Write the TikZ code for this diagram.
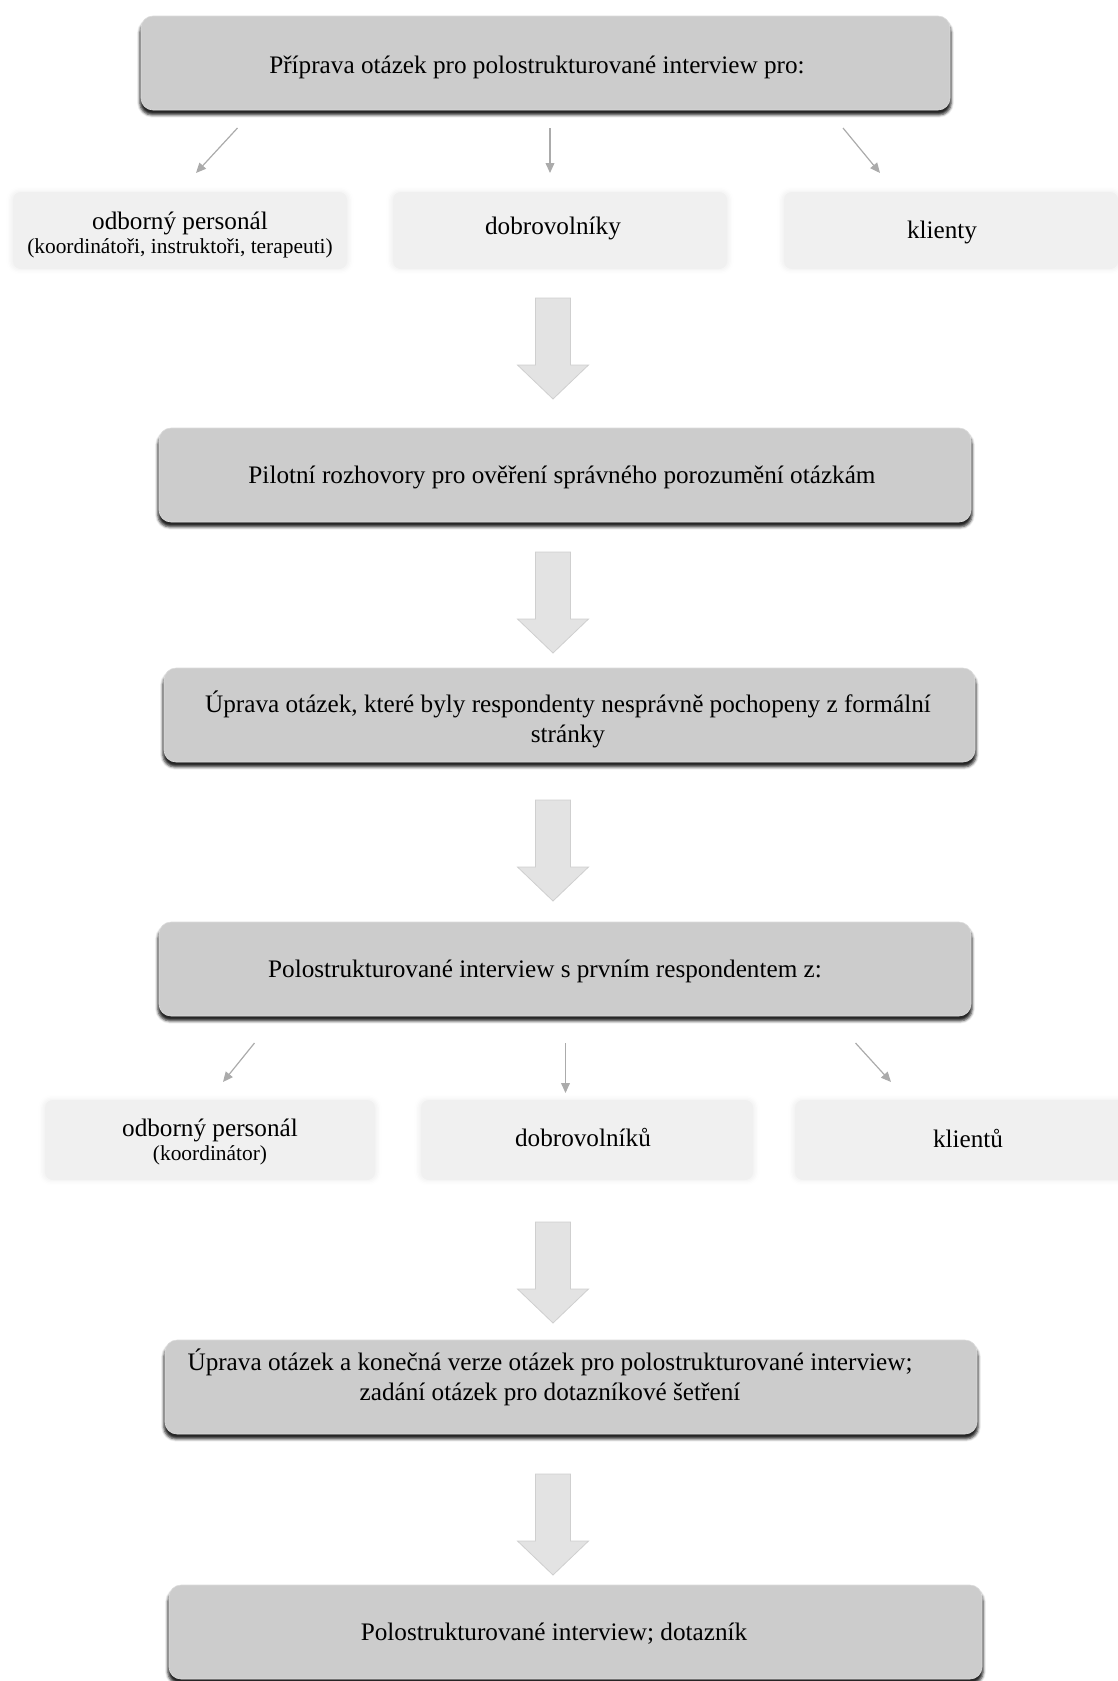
\documentclass[tikz,border=0pt]{standalone}
\usepackage{fontspec}
\setmainfont{Liberation Serif}
\usetikzlibrary{arrows.meta,shadows.blur}

% size of the parenthesised detail lines
\newcommand\detailsize{\fontsize{10.7pt}{13pt}\selectfont}

\tikzset{
  graybox/.style={rounded corners=6pt, fill=black!20, draw=black!14, line width=0.3pt,
    minimum height=47pt, inner sep=0pt,
    blur shadow={shadow xshift=0pt, shadow yshift=-2.4pt, shadow blur radius=1.3pt,
                 shadow opacity=85, shadow scale=1.003}},
  lightbox/.style={rounded corners=4pt, fill=black!6, inner sep=0pt,
    blur shadow={shadow xshift=0pt, shadow yshift=0pt, shadow blur radius=2.5pt,
                 shadow opacity=7, shadow scale=1.01}},
  steptext/.style={font=\fontsize{12.6pt}{15pt}\selectfont, align=center, inner sep=0pt},
  grouptext/.style={font=\fontsize{12.6pt}{13pt}\selectfont, align=center, inner sep=0pt},
  thinarrow/.style={draw=black!33, line width=0.6pt, -{Triangle[length=5pt,width=4.4pt]}},
  pics/bigdown/.style={code={
    \filldraw[fill=black!11, draw=black!19, line width=0.4pt]
      (-17.5,0) -- (17.5,0) -- (17.5,67) -- (35.5,67) -- (0,101)
      -- (-35.5,67) -- (-17.5,67) -- cycle;}}
}

\begin{document}
\begin{tikzpicture}[x=0.5pt,y=-0.5pt]
\useasboundingbox (0,0) rectangle (1118,1681);

% main steps
\node[graybox, minimum width=404.5pt] (b1) at (545.5,63) {};
\node[steptext] (t1) at (537,67) {Příprava otázek pro polostrukturované interview pro:};

\node[graybox, minimum width=406pt] (b2) at (565,475) {};
\node[steptext] (t2) at (562,477) {Pilotní rozhovory pro ověření správného porozumění otázkám};

\node[graybox, minimum width=405.5pt] (b3) at (569.5,715) {};
\node[steptext] (t3) at (568,719) {Úprava otázek, které byly respondenty nesprávně pochopeny z formální\\stránky};

\node[graybox, minimum width=406pt] (b4) at (565,969) {};
\node[steptext] (t4) at (545,971) {Polostrukturované interview s prvním respondentem z:};

\node[graybox, minimum width=406pt] (b5) at (571,1387) {};
\node[steptext] (t5) at (550,1377) {Úprava otázek a konečná verze otázek pro polostrukturované interview;\\zadání otázek pro dotazníkové šetření};

\node[graybox, minimum width=406.5pt] (b6) at (575.5,1632) {};
\node[steptext] (t6) at (554,1634) {Polostrukturované interview; dotazník};

% first group of respondents
\node[lightbox, minimum width=167pt, minimum height=38.5pt] (g1a) at (180,230.5) {};
\node[grouptext] (g1at) at (180,235) {odborný personál\\[-1pt]{\detailsize (koordinátoři, instruktoři, terapeuti)}};
\node[lightbox, minimum width=167pt, minimum height=38.5pt] (g1b) at (560,230.5) {};
\node[grouptext] (g1bt) at (553,228) {dobrovolníky};
\node[lightbox, minimum width=167pt, minimum height=38.5pt] (g1c) at (951,230.5) {};
\node[grouptext] (g1ct) at (942,232) {klienty};

% second group of respondents
\node[lightbox, minimum width=165pt, minimum height=40pt] (g2a) at (210,1140) {};
\node[grouptext] (g2at) at (210,1142) {odborný personál\\[-1pt]{\detailsize (koordinátor)}};
\node[lightbox, minimum width=166pt, minimum height=40pt] (g2b) at (587,1140) {};
\node[grouptext] (g2bt) at (583,1137) {dobrovolníků};
\node[lightbox, minimum width=166pt, minimum height=40pt] (g2c) at (961,1140) {};
\node[grouptext] (g2ct) at (968,1138) {klientů};

% thin branching arrows
\coordinate (s1a) at (237.5,128); \coordinate (e1a) at (196,173);
\coordinate (s1b) at (550,128);   \coordinate (e1b) at (550,173);
\coordinate (s1c) at (843,128);   \coordinate (e1c) at (880,173);
\draw[thinarrow] (s1a) -- (e1a);
\draw[thinarrow] (s1b) -- (e1b);
\draw[thinarrow] (s1c) -- (e1c);

\coordinate (s2a) at (254.5,1043); \coordinate (e2a) at (223,1082);
\coordinate (s2b) at (565.5,1043); \coordinate (e2b) at (565.5,1093);
\coordinate (s2c) at (855.5,1043); \coordinate (e2c) at (891,1082);
\draw[thinarrow] (s2a) -- (e2a);
\draw[thinarrow] (s2b) -- (e2b);
\draw[thinarrow] (s2c) -- (e2c);

% block arrows between stages
\pic at (553,298) {bigdown};
\pic at (553,552) {bigdown};
\pic at (553,800) {bigdown};
\pic at (553,1222) {bigdown};
\pic at (553,1474) {bigdown};
\end{tikzpicture}
\end{document}
